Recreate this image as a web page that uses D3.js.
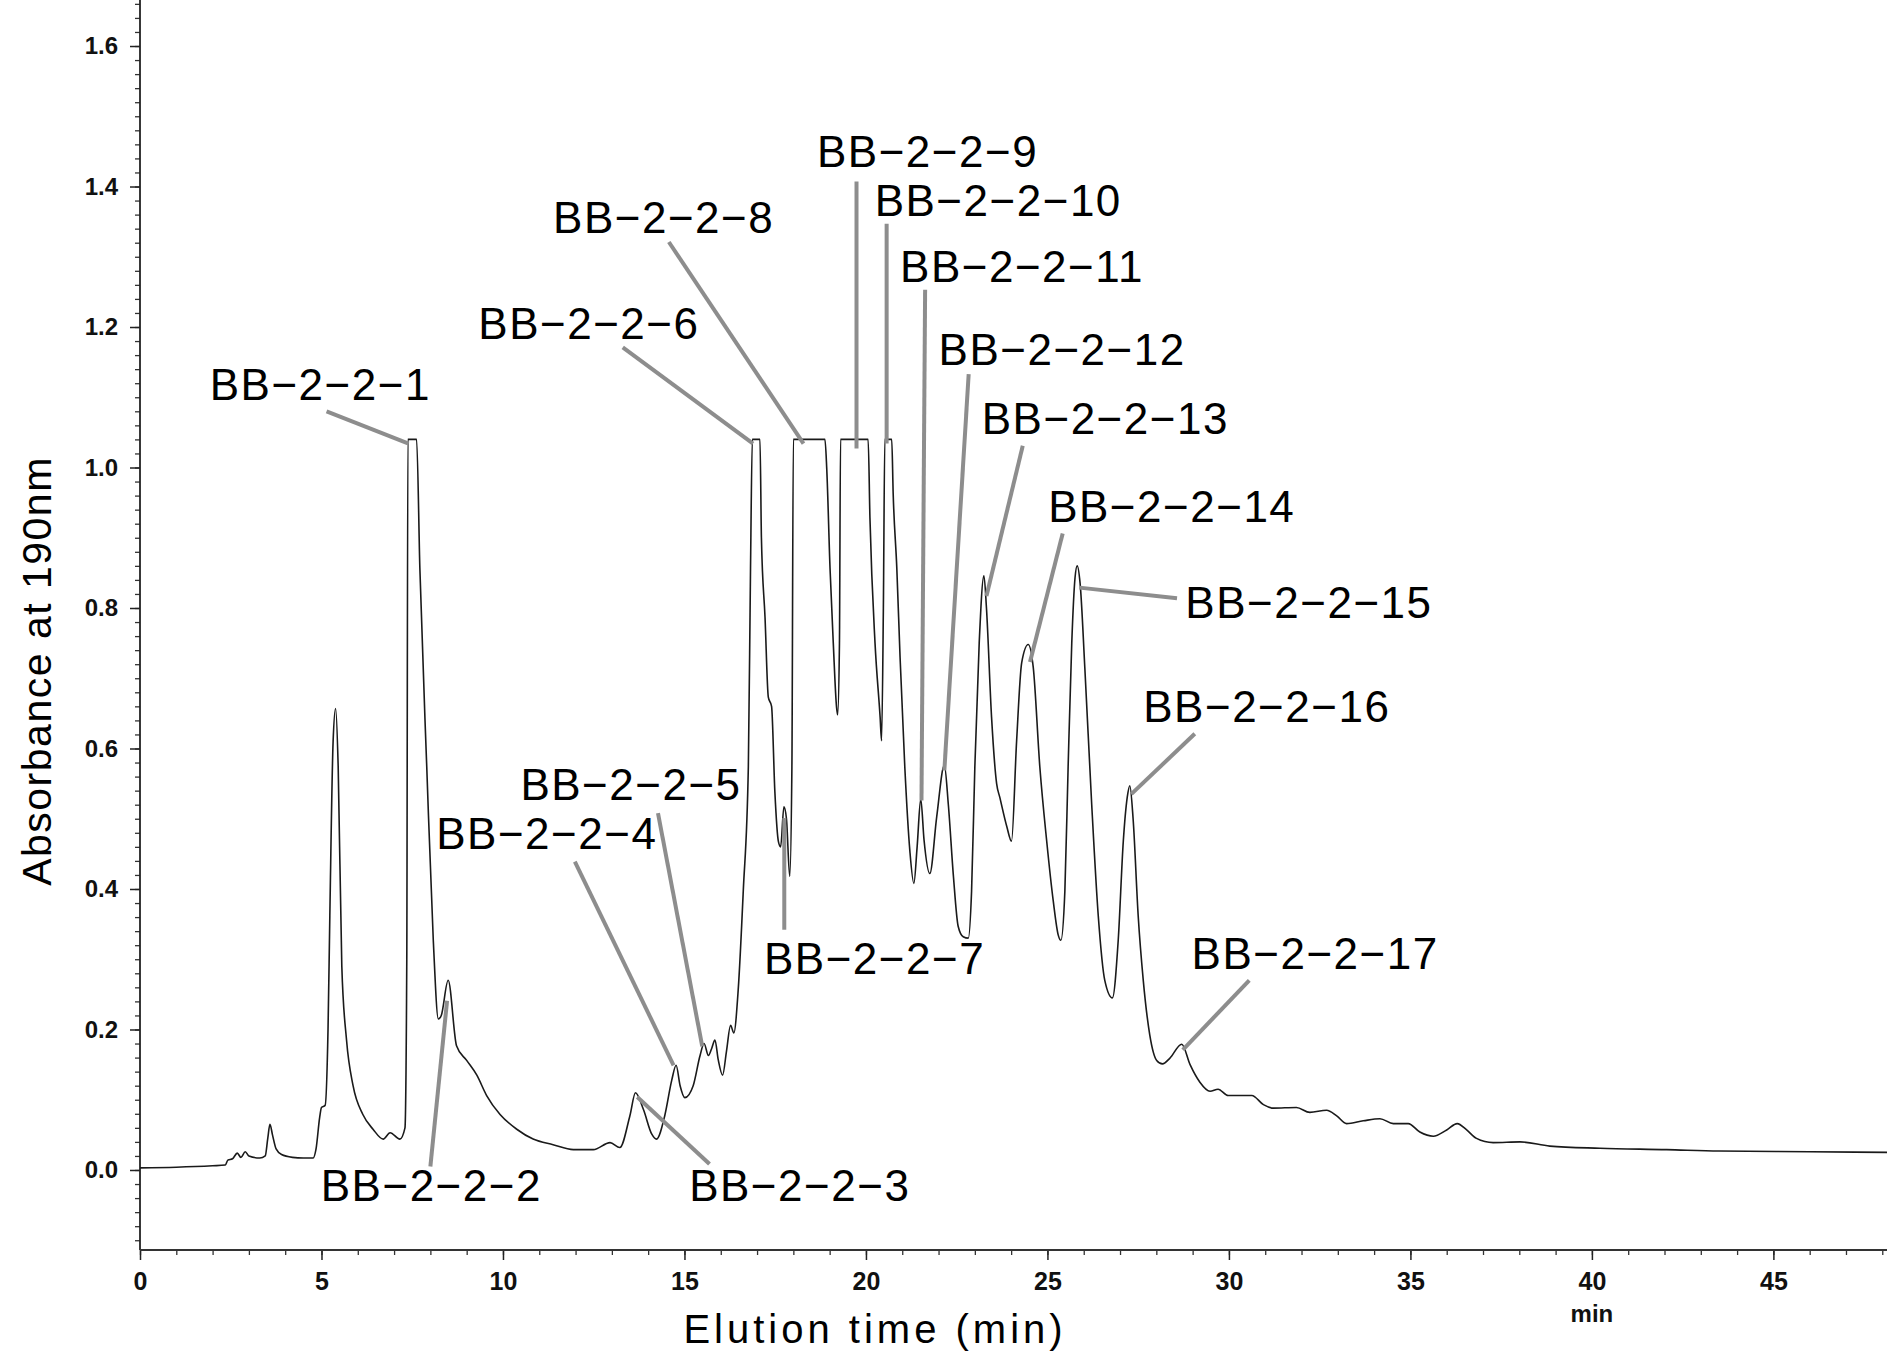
<!DOCTYPE html>
<html>
<head>
<meta charset="utf-8">
<script src="https://cdn.jsdelivr.net/npm/d3@7"></script>
<style>
  html, body { margin: 0; padding: 0; background: #ffffff; }
  svg { display: block; }
</style>
</head>
<body>
<svg id="chart" width="1887" height="1354"></svg>
<script>
// ---------- data ----------
const elutionTime = [
  0, 1.0, 2.0, 2.35, 2.42, 2.55, 2.68, 2.78, 2.9, 3.0, 3.3, 3.45, 3.52, 3.58, 3.65, 3.75, 3.9, 4.2, 4.5, 4.77,
  4.85, 4.95, 5.0, 5.1, 5.18, 5.23, 5.32, 5.39, 5.46, 5.56, 5.69, 5.87, 6.14, 6.42, 6.7, 6.89, 7.16, 7.3, 7.35,
  7.38, 7.62, 7.71, 7.9, 8.08, 8.22, 8.3, 8.49, 8.72, 9.0, 9.28, 9.55, 9.92, 10.38, 10.83, 11.38, 11.94, 12.49,
  12.95, 13.22, 13.5, 13.65, 13.87, 14.1, 14.23, 14.46, 14.65, 14.77, 14.88, 15.01, 15.24, 15.43, 15.54, 15.66,
  15.75, 15.84, 15.93, 16.05, 16.16, 16.27, 16.36, 16.48, 16.62, 16.76, 16.82, 16.87, 17.08, 17.12, 17.22, 17.31,
  17.4, 17.49, 17.59, 17.65, 17.74, 17.81, 17.9, 17.96, 18.0, 18.87, 18.92, 19.01, 19.1, 19.19, 19.22, 19.27,
  19.3, 20.06, 20.11, 20.25, 20.39, 20.43, 20.48, 20.52, 20.71, 20.75, 20.85, 20.94, 21.07, 21.21, 21.32, 21.41,
  21.51, 21.6, 21.76, 21.95, 22.16, 22.27, 22.41, 22.54, 22.68, 22.82, 22.91, 23.0, 23.12, 23.25, 23.32, 23.46,
  23.6, 23.69, 23.88, 24.01, 24.15, 24.29, 24.47, 24.61, 24.79, 24.98, 25.16, 25.3, 25.37, 25.48, 25.57, 25.67,
  25.76, 25.82, 25.9, 26.03, 26.22, 26.4, 26.58, 26.79, 26.95, 27.09, 27.2, 27.27, 27.36, 27.5, 27.64, 27.82,
  28.01, 28.17, 28.37, 28.7, 28.93, 29.2, 29.48, 29.7, 29.98, 30.63, 30.95, 31.22, 31.86, 32.23, 32.69, 32.97,
  33.24, 33.7, 34.16, 34.53, 34.94, 35.26, 35.63, 36.0, 36.29, 36.55, 36.82, 37.28, 38.02, 38.84, 40.22, 42.06,
  43.5, 46.0, 48.2
];
const absorbance = [
  0.003, 0.004, 0.006, 0.007, 0.014, 0.016, 0.024, 0.018, 0.026, 0.02, 0.017, 0.02, 0.045, 0.065, 0.05, 0.03, 0.022, 0.018, 0.017, 0.017,
  0.03, 0.075, 0.089, 0.092, 0.2, 0.362, 0.61, 0.657, 0.574, 0.29, 0.185, 0.12, 0.079, 0.058, 0.044, 0.053, 0.044, 0.06, 0.3,
  1.04, 1.04, 0.857, 0.574, 0.327, 0.215, 0.22, 0.27, 0.177, 0.156, 0.135, 0.106, 0.079, 0.058, 0.044, 0.036, 0.029, 0.029,
  0.039, 0.032, 0.078, 0.11, 0.086, 0.051, 0.044, 0.078, 0.128, 0.149, 0.12, 0.103, 0.12, 0.163, 0.18, 0.163,
  0.173, 0.185, 0.157, 0.135, 0.17, 0.206, 0.195, 0.256, 0.397, 0.574, 0.857, 1.04, 1.04, 0.9, 0.786, 0.673,
  0.66, 0.539, 0.467, 0.46, 0.517, 0.5, 0.418, 0.574, 1.04, 1.04, 0.998, 0.857, 0.75, 0.659, 0.648, 0.75,
  1.04, 1.04, 0.928, 0.75, 0.645, 0.611, 0.8, 1.04, 1.04, 0.963, 0.857, 0.73, 0.574, 0.454, 0.408, 0.46,
  0.528, 0.47, 0.422, 0.503, 0.576, 0.52, 0.418, 0.347, 0.332, 0.33, 0.397, 0.574, 0.75, 0.846, 0.8, 0.645,
  0.55, 0.53, 0.489, 0.468, 0.61, 0.722, 0.748, 0.715, 0.574, 0.468, 0.383, 0.334, 0.327, 0.397, 0.574, 0.75,
  0.843, 0.86, 0.835, 0.715, 0.52, 0.362, 0.27, 0.245, 0.327, 0.468, 0.531, 0.547, 0.5, 0.362, 0.27, 0.192,
  0.156, 0.151, 0.159, 0.179, 0.15, 0.125, 0.112, 0.115, 0.106, 0.106, 0.093, 0.088, 0.089, 0.082, 0.085, 0.077,
  0.066, 0.07, 0.073, 0.066, 0.066, 0.054, 0.048, 0.057, 0.066, 0.057, 0.045, 0.039, 0.04, 0.034, 0.031, 0.029,
  0.027, 0.026, 0.025
];

// tick values
const xMajorTicks = [0, 5, 10, 15, 20, 25, 30, 35, 40, 45];
const yMajorTicks = [0.0, 0.2, 0.4, 0.6, 0.8, 1.0, 1.2, 1.4, 1.6];

// peak annotations (text anchor and leader line ends, in data units: min, absorbance)
const peakLabels = ["BB−2−2−1", "BB−2−2−2", "BB−2−2−3", "BB−2−2−4", "BB−2−2−5", "BB−2−2−6", "BB−2−2−7", "BB−2−2−8", "BB−2−2−9",
  "BB−2−2−10", "BB−2−2−11", "BB−2−2−12", "BB−2−2−13", "BB−2−2−14", "BB−2−2−15", "BB−2−2−16", "BB−2−2−17"];
const labelTime = [1.92, 4.98, 15.13, 8.16, 10.48, 9.32, 17.19, 11.38, 18.65, 20.24, 20.94, 22.0, 23.19, 25.02, 28.8, 27.64, 28.97];
const labelAbs  = [1.118, -0.021, -0.022, 0.480, 0.549, 1.205, 0.301, 1.357, 1.450, 1.381, 1.287, 1.168, 1.070, 0.945, 0.809, 0.660, 0.308];
const leaderFromTime = [5.14, 8.0, 15.69, 11.98, 14.27, 13.30, 17.75, 14.57, 19.74, 20.57, 21.63, 22.83, 24.32, 25.42, 28.57, 29.06, 30.56];
const leaderFromAbs  = [1.080, 0.005, 0.0085, 0.439, 0.508, 1.171, 0.342, 1.321, 1.407, 1.347, 1.253, 1.133, 1.031, 0.906, 0.814, 0.621, 0.270];
const leaderToTime   = [7.40, 8.46, 13.70, 14.70, 15.49, 16.89, 17.75, 18.28, 19.74, 20.57, 21.53, 22.16, 23.32, 24.52, 25.88, 27.31, 28.73];
const leaderToAbs    = [1.034, 0.241, 0.104, 0.149, 0.176, 1.034, 0.501, 1.034, 1.027, 1.034, 0.526, 0.569, 0.817, 0.723, 0.829, 0.535, 0.171];

// ---------- drawing ----------
const W = 1887, H = 1354;
const svg = d3.select("#chart");
svg.append("rect").attr("width", W).attr("height", H).attr("fill", "#ffffff");

const x = d3.scaleLinear().domain([0, 48.13]).range([140, 1887]);
const y = d3.scaleLinear().domain([-0.1139, 1.6655]).range([1250, 0]);

const FONT = "'Liberation Sans', Arial, Helvetica, sans-serif";

// Y axis: minor ticks (every 0.02)
const yMinor = d3.range(-5, 84).map(i => +(i * 0.02).toFixed(2));
svg.append("g")
  .attr("transform", `translate(${x(0)},0)`)
  .call(d3.axisLeft(y).tickValues(yMinor).tickSize(5).tickSizeOuter(0).tickFormat(""))
  .call(g => g.select(".domain").remove())
  .call(g => g.selectAll(".tick line").attr("stroke", "#333").attr("stroke-width", 1.3));

// Y axis: major ticks with labels
svg.append("g")
  .attr("transform", `translate(${x(0)},0)`)
  .call(d3.axisLeft(y).tickValues(yMajorTicks).tickSize(10).tickSizeOuter(0).tickPadding(12).tickFormat(d3.format(".1f")))
  .call(g => g.select(".domain").remove())
  .call(g => g.selectAll(".tick line").attr("stroke", "#222").attr("stroke-width", 1.5))
  .call(g => g.selectAll(".tick text")
    .attr("font-family", FONT).attr("font-size", 24).attr("font-weight", "bold").attr("fill", "#111"));

// X axis: minor ticks (every 1 min)
svg.append("g")
  .attr("transform", `translate(0,${y.range()[0]})`)
  .call(d3.axisBottom(x).tickValues(d3.range(0, 49)).tickSize(5).tickSizeOuter(0).tickFormat(""))
  .call(g => g.select(".domain").remove())
  .call(g => g.selectAll(".tick line").attr("stroke", "#333").attr("stroke-width", 1.3));

// X axis: major ticks with labels
svg.append("g")
  .attr("transform", `translate(0,${y.range()[0]})`)
  .call(d3.axisBottom(x).tickValues(xMajorTicks).tickSize(10).tickSizeOuter(0).tickPadding(12).tickFormat(d3.format("d")))
  .call(g => g.select(".domain").remove())
  .call(g => g.selectAll(".tick line").attr("stroke", "#222").attr("stroke-width", 1.5))
  .call(g => g.selectAll(".tick text")
    .attr("font-family", FONT).attr("font-size", 25).attr("font-weight", "bold").attr("fill", "#111"));

// axis lines
svg.append("line")
  .attr("x1", x(0)).attr("x2", x(0)).attr("y1", y.range()[1]).attr("y2", y.range()[0])
  .attr("stroke", "#222").attr("stroke-width", 1.8);
svg.append("line")
  .attr("x1", x(0)).attr("x2", x.range()[1]).attr("y1", y.range()[0]).attr("y2", y.range()[0])
  .attr("stroke", "#333").attr("stroke-width", 1.8);

// "min" unit under the 40 tick
svg.append("text")
  .attr("x", x(40)).attr("y", 1322)
  .attr("text-anchor", "middle")
  .attr("font-family", FONT).attr("font-size", 24).attr("font-weight", "bold").attr("fill", "#111")
  .text("min");

// axis titles
svg.append("text")
  .attr("x", 875).attr("y", 1343)
  .attr("text-anchor", "middle")
  .attr("font-family", FONT).attr("font-size", 40).attr("letter-spacing", "4px").attr("fill", "#000")
  .text("Elution time (min)");

svg.append("text")
  .attr("transform", "translate(51,671) rotate(-90)")
  .attr("text-anchor", "middle")
  .attr("font-family", FONT).attr("font-size", 41).attr("letter-spacing", "1.5px").attr("fill", "#000")
  .text("Absorbance at 190nm");

// chromatogram trace
const points = elutionTime.map((t, i) => [t, absorbance[i]]);
const line = d3.line().x(d => x(d[0])).y(d => y(d[1])).curve(d3.curveMonotoneX);
svg.append("path")
  .datum(points)
  .attr("d", line)
  .attr("fill", "none")
  .attr("stroke", "#1a1a1a")
  .attr("stroke-width", 1.6)
  .attr("stroke-linejoin", "round");

// leader lines
const ann = peakLabels.map((name, i) => ({
  name, tx: labelTime[i], ty: labelAbs[i],
  x1: leaderFromTime[i], y1: leaderFromAbs[i], x2: leaderToTime[i], y2: leaderToAbs[i]
}));
svg.append("g").selectAll("line").data(ann).join("line")
  .attr("x1", d => x(d.x1)).attr("y1", d => y(d.y1))
  .attr("x2", d => x(d.x2)).attr("y2", d => y(d.y2))
  .attr("stroke", "#8d8d8d").attr("stroke-width", 4);

// peak labels
svg.append("g").selectAll("text").data(ann).join("text")
  .attr("x", d => x(d.tx)).attr("y", d => y(d.ty))
  .attr("dy", "0.36em")
  .attr("font-family", FONT).attr("font-size", 44).attr("letter-spacing", "1.5px").attr("fill", "#000")
  .text(d => d.name);
</script>
</body>
</html>
